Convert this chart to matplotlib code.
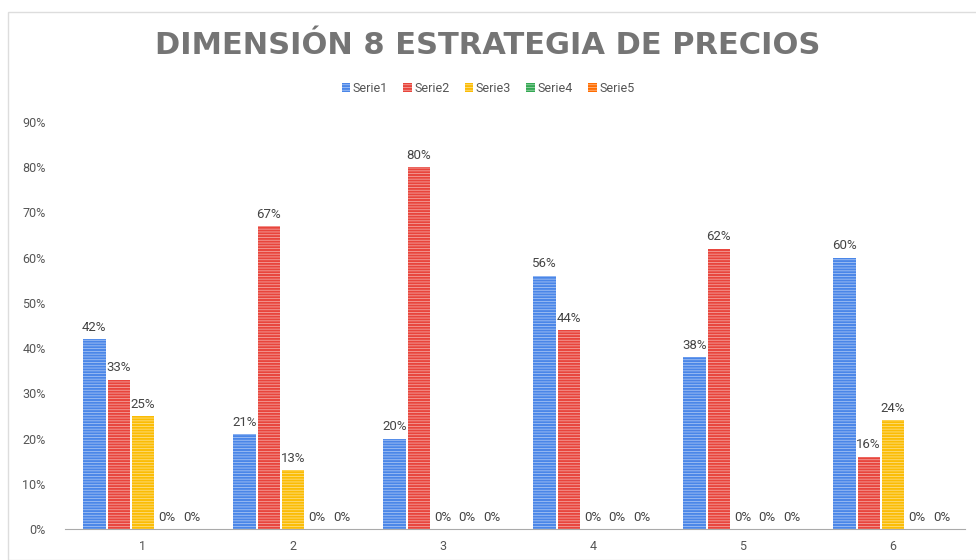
import matplotlib.pyplot as plt
import numpy as np
from matplotlib.patches import Rectangle

categories = ['1', '2', '3', '4', '5', '6']
series_names = ['Serie1', 'Serie2', 'Serie3', 'Serie4', 'Serie5']
serie1 = [0.42, 0.21, 0.20, 0.56, 0.38, 0.60]
serie2 = [0.33, 0.67, 0.80, 0.44, 0.62, 0.16]
serie3 = [0.25, 0.13, 0.00, 0.00, 0.00, 0.24]
serie4 = [0.00, 0.00, 0.00, 0.00, 0.00, 0.00]
serie5 = [0.00, 0.00, 0.00, 0.00, 0.00, 0.00]
colors = ['#4a86e8', '#e8453c', '#fbbc04', '#34a853', '#ff6d01']

plt.rcParams['font.family'] = ['Roboto', 'DejaVu Sans']
plt.rcParams['hatch.linewidth'] = 0.6

fig = plt.figure(figsize=(9.76, 5.6), dpi=100)
fig.patches.append(Rectangle((8 / 976, 0), 1, 1 - 12 / 560, transform=fig.transFigure,
                             fill=False, edgecolor='#dddddd', linewidth=1))
ax = fig.add_axes([65 / 976, 31 / 560, 900 / 976, (529 - 122) / 560])

x = np.arange(len(categories))
w = 0.162
all_series = [serie1, serie2, serie3, serie4, serie5]
for i, vals in enumerate(all_series):
    pos = x + (i - 2) * w
    ax.bar(pos, vals, width=w * 0.92, color=colors[i], label=series_names[i],
           hatch='------', edgecolor=(1, 1, 1, 0.5), linewidth=0)
    for px, v in zip(pos, vals):
        ax.text(px, v + 0.012, f'{round(v * 100)}%', ha='center', va='bottom',
                fontsize=9.5, color='#444444')

ax.set_ylim(0, 0.9)
ax.set_xlim(-0.52, 5.48)
ax.set_yticks(np.arange(0, 0.91, 0.1))
ax.set_yticklabels([f'{int(round(t * 100))}%' for t in np.arange(0, 0.91, 0.1)])
ax.set_xticks(x)
ax.set_xticklabels(categories)
ax.tick_params(axis='both', length=0, labelsize=9, colors='#555555')
ax.tick_params(axis='y', pad=14)
ax.tick_params(axis='x', pad=8)
for s in ['top', 'right', 'left']:
    ax.spines[s].set_visible(False)
ax.spines['bottom'].set_color('#aaaaaa')

fig.text(0.5, 1 - 45 / 560, 'DIMENSIÓN 8 ESTRATEGIA DE PRECIOS', ha='center', va='center',
         fontsize=22, fontweight='bold', color='#757575', family='DejaVu Sans')
fig.legend(loc='center', bbox_to_anchor=(0.5, 1 - 88 / 560), ncol=5, frameon=False,
           fontsize=9, handlelength=0.7, handleheight=0.7, handletextpad=0.2,
           columnspacing=1.2, labelcolor='#555555')

fig.savefig('out.png', dpi=100)
